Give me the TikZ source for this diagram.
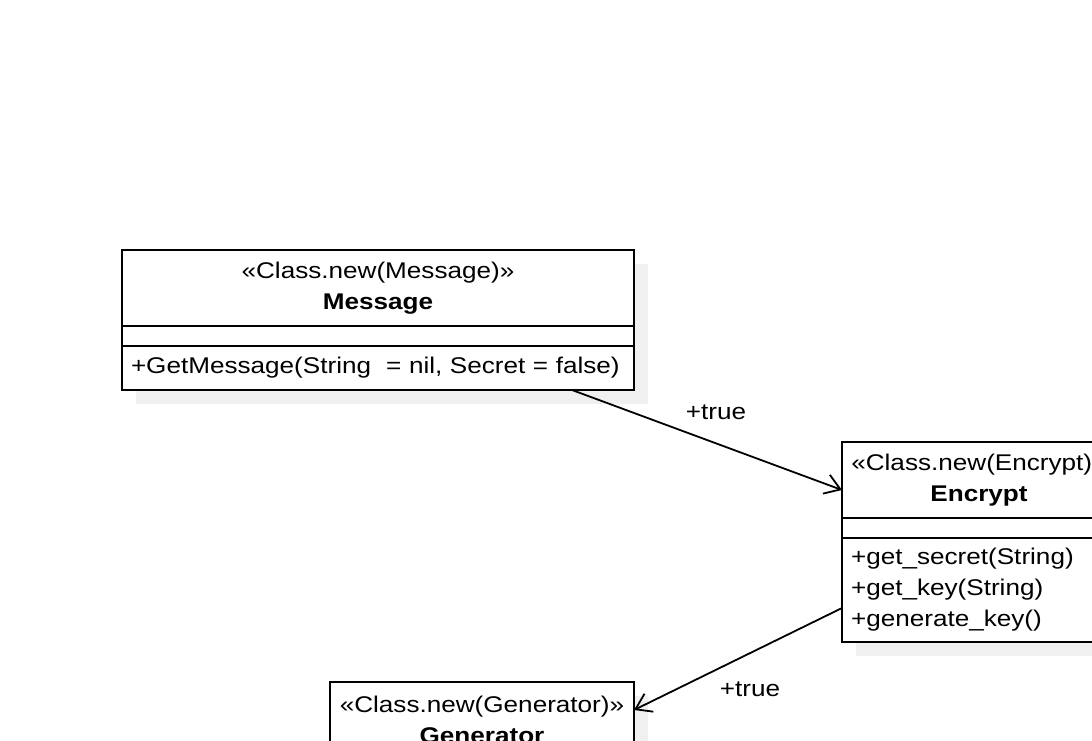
\documentclass[tikz,border=0pt]{standalone}
\usepackage{fontspec}
\setmainfont{Liberation Sans}[FakeStretch=1.15]
\usetikzlibrary{positioning,calc,backgrounds,arrows.meta}
\definecolor{umlline}{HTML}{000000}
\definecolor{umlfill}{HTML}{FFFFFF}
\definecolor{umlshade}{HTML}{F0F0F0}
\tikzset{
  classhead/.style={draw=umlline, fill=umlfill, line width=1.8pt, minimum width=#1, minimum height=76pt,
                    inner sep=0pt, outer sep=0pt, align=center, anchor=north west},
  classhead/.default=300pt,
  classpart/.style={draw=umlline, fill=umlfill, line width=1.8pt, text width=#1, inner xsep=9pt, inner ysep=0pt,
                    outer sep=0pt, align=left, anchor=north west},
  classpart/.default=280pt,
  classshade/.style={fill=umlshade},
  assoc/.style={-{Straight Barb[length=15pt, width=20pt, line width=1.8pt]}, draw=umlline, line width=1.8pt},
}
\newcommand{\classshadow}[2]{\fill[classshade] ($(#1.north west)+(14,-14)$) rectangle ($(#2.south east)+(14,-14)$);}

\begin{document}
\begin{tikzpicture}[x=1pt, y=1pt, font=\fontsize{22.7pt}{31pt}\selectfont]
  \useasboundingbox (0,0) rectangle (1092,-740);
  \clip (0,0) rectangle (1092,-740);
  % Message
  \node[classhead=512pt] (msghead) at (122,-250) {«Class.new(Message)»\\ \textbf{Message}};
  \node[classpart=494pt, minimum height=20pt, below=0pt of msghead.south west, anchor=north west] (msgattr) {};
  \node[classpart=494pt, minimum height=44pt, below=0pt of msgattr.south west, anchor=north west] (msgops) {\mbox{+GetMessage(String~ = nil, Secret = false)}};
  % Encrypt
  \node[classhead=274pt] (enchead) at (842,-442) {«Class.new(Encrypt)»\\ \textbf{Encrypt}};
  \node[classpart=256pt, minimum height=20pt, below=0pt of enchead.south west, anchor=north west] (encattr) {};
  \node[classpart=256pt, minimum height=104pt, below=0pt of encattr.south west, anchor=north west] (encops) {+get\_secret(String)\\ +get\_key(String)\\ +generate\_key()};
  % Generator
  \node[classhead=304pt] (genhead) at (330,-682) {«Class.new(Generator)»\\ \textbf{Generator}};
  \node[classpart=286pt, minimum height=20pt, below=0pt of genhead.south west, anchor=north west] (genattr) {};
  % shadows
  \begin{scope}[on background layer]
    \classshadow{msghead}{msgops}
    \classshadow{enchead}{encops}
    \classshadow{genhead}{genattr}
  \end{scope}
  % associations
  \draw[assoc] ($(msgops.south west)+(450,0)$) -- node[xshift=9pt, yshift=28pt] {+true} ($(enchead.west)+(0,-10)$);
  \draw[assoc] ($(encops.west)+(0,-18)$) -- node[xshift=12pt, yshift=-30pt] {+true} ($(genhead.east)+(0,10)$);
\end{tikzpicture}
\end{document}
